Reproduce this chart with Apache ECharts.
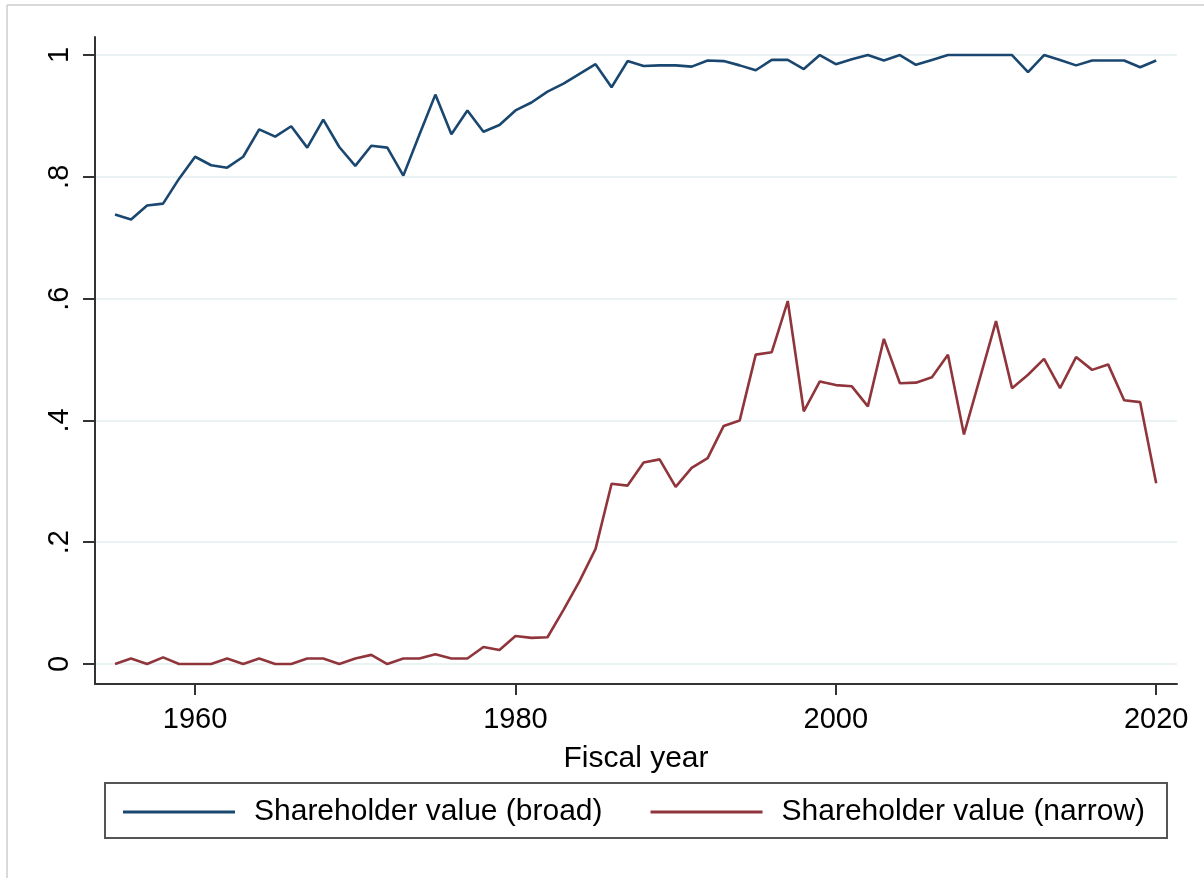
<!DOCTYPE html>
<html>
<head>
<meta charset="utf-8">
<title>Shareholder value</title>
<script src="https://cdn.jsdelivr.net/npm/echarts@6/dist/echarts.min.js"></script>
<style>
  html, body { margin: 0; padding: 0; background: #fff; }
  #chart { width: 1204px; height: 878px; }
</style>
</head>
<body>
<div id="chart"></div>
<script>
// fiscal years 1955-2020
var years = [
  1955, 1956, 1957, 1958, 1959, 1960, 1961, 1962, 1963, 1964,
  1965, 1966, 1967, 1968, 1969, 1970, 1971, 1972, 1973, 1974,
  1975, 1976, 1977, 1978, 1979, 1980, 1981, 1982, 1983, 1984,
  1985, 1986, 1987, 1988, 1989, 1990, 1991, 1992, 1993, 1994,
  1995, 1996, 1997, 1998, 1999, 2000, 2001, 2002, 2003, 2004,
  2005, 2006, 2007, 2008, 2009, 2010, 2011, 2012, 2013, 2014,
  2015, 2016, 2017, 2018, 2019, 2020
];

var broad = [
  0.738, 0.730, 0.753, 0.756, 0.797, 0.833, 0.819, 0.815, 0.833, 0.878,
  0.866, 0.883, 0.848, 0.894, 0.849, 0.818, 0.851, 0.848, 0.802, 0.869,
  0.935, 0.870, 0.909, 0.874, 0.885, 0.909, 0.922, 0.940, 0.953, 0.969,
  0.985, 0.947, 0.990, 0.982, 0.983, 0.983, 0.981, 0.991, 0.990, 0.983,
  0.975, 0.992, 0.992, 0.977, 1.000, 0.985, 0.993, 1.000, 0.991, 1.000,
  0.984, 0.992, 1.000, 1.000, 1.000, 1.000, 1.000, 0.972, 1.000, 0.992,
  0.983, 0.991, 0.991, 0.991, 0.980, 0.991
];

var narrow = [
  0.000, 0.009, 0.000, 0.011, 0.000, 0.000, 0.000, 0.009, 0.000, 0.009,
  0.000, 0.000, 0.009, 0.009, 0.000, 0.009, 0.015, 0.000, 0.009, 0.009,
  0.016, 0.009, 0.009, 0.028, 0.023, 0.046, 0.043, 0.044, 0.089, 0.136,
  0.189, 0.296, 0.293, 0.331, 0.336, 0.291, 0.322, 0.338, 0.391, 0.400,
  0.508, 0.512, 0.596, 0.415, 0.464, 0.458, 0.456, 0.423, 0.534, 0.461,
  0.462, 0.471, 0.508, 0.377, 0.470, 0.563, 0.453, 0.475, 0.501, 0.453,
  0.504, 0.483, 0.492, 0.433, 0.430, 0.297
];

var xTicks = [1960, 1980, 2000, 2020];
var yTicks = [0, 0.2, 0.4, 0.6, 0.8, 1];
var yTickLabels = ['0', '.2', '.4', '.6', '.8', '1'];

var names = ['Shareholder value (broad)', 'Shareholder value (narrow)'];

function pairs(vals) {
  return years.map(function (y, i) { return [y, vals[i]]; });
}

var myChart = echarts.init(document.getElementById('chart'));
var font = 'Liberation Sans, Arial, sans-serif';

var option = {
  backgroundColor: '#fff',
  animation: false,
  color: ['#1a476f', '#90353b'],
  grid: { left: 95, top: 37, width: 1082, height: 647 },
  xAxis: {
    type: 'value',
    min: 1953.75,
    max: 2021.3,
    name: 'Fiscal year',
    nameLocation: 'middle',
    nameGap: 60,
    nameTextStyle: { fontFamily: font, fontSize: 30, color: '#000' },
    axisLine: { onZero: false, lineStyle: { color: '#333', width: 2 } },
    axisTick: { length: 11, customValues: xTicks, lineStyle: { color: '#333', width: 2 } },
    axisLabel: {
      customValues: xTicks,
      margin: 21,
      fontFamily: font,
      fontSize: 29,
      color: '#000',
      formatter: function (v) { return String(v); }
    },
    splitLine: { show: false }
  },
  yAxis: {
    type: 'value',
    min: -0.0328,
    max: 1.0296,
    axisLine: { show: true, lineStyle: { color: '#333', width: 2 } },
    axisTick: { show: true, length: 12, customValues: yTicks, lineStyle: { color: '#333', width: 2 } },
    axisLabel: {
      customValues: yTicks,
      rotate: 90,
      margin: 21,
      fontFamily: font,
      fontSize: 29,
      color: '#000',
      formatter: function (v) {
        var i = yTicks.indexOf(Math.round(v * 10) / 10);
        return i >= 0 ? yTickLabels[i] : '';
      }
    },
    splitLine: { show: true, lineStyle: { color: '#eaf2f3', width: 2 } }
  },
  legend: {
    data: names,
    left: 118,
    top: 792,
    itemWidth: 112,
    itemHeight: 3,
    itemGap: 48,
    icon: 'rect',
    textStyle: { fontFamily: font, fontSize: 30, color: '#000', padding: [0, 0, 0, 14] }
  },
  graphic: [
    {
      type: 'rect',
      shape: { x: 105, y: 783, width: 1062, height: 55 },
      style: { fill: 'none', stroke: '#555', lineWidth: 2 },
      silent: true
    },
    {
      type: 'line',
      shape: { x1: 7, y1: 5, x2: 1204, y2: 5 },
      style: { stroke: '#ccc', lineWidth: 1.5 },
      silent: true
    },
    {
      type: 'line',
      shape: { x1: 7, y1: 5, x2: 7, y2: 878 },
      style: { stroke: '#ccc', lineWidth: 1.5 },
      silent: true
    }
  ],
  series: [
    {
      name: names[0],
      type: 'line',
      data: pairs(broad),
      showSymbol: false,
      lineStyle: { width: 2.6 }
    },
    {
      name: names[1],
      type: 'line',
      data: pairs(narrow),
      showSymbol: false,
      lineStyle: { width: 2.6 }
    }
  ]
};

myChart.setOption(option);
</script>
</body>
</html>
